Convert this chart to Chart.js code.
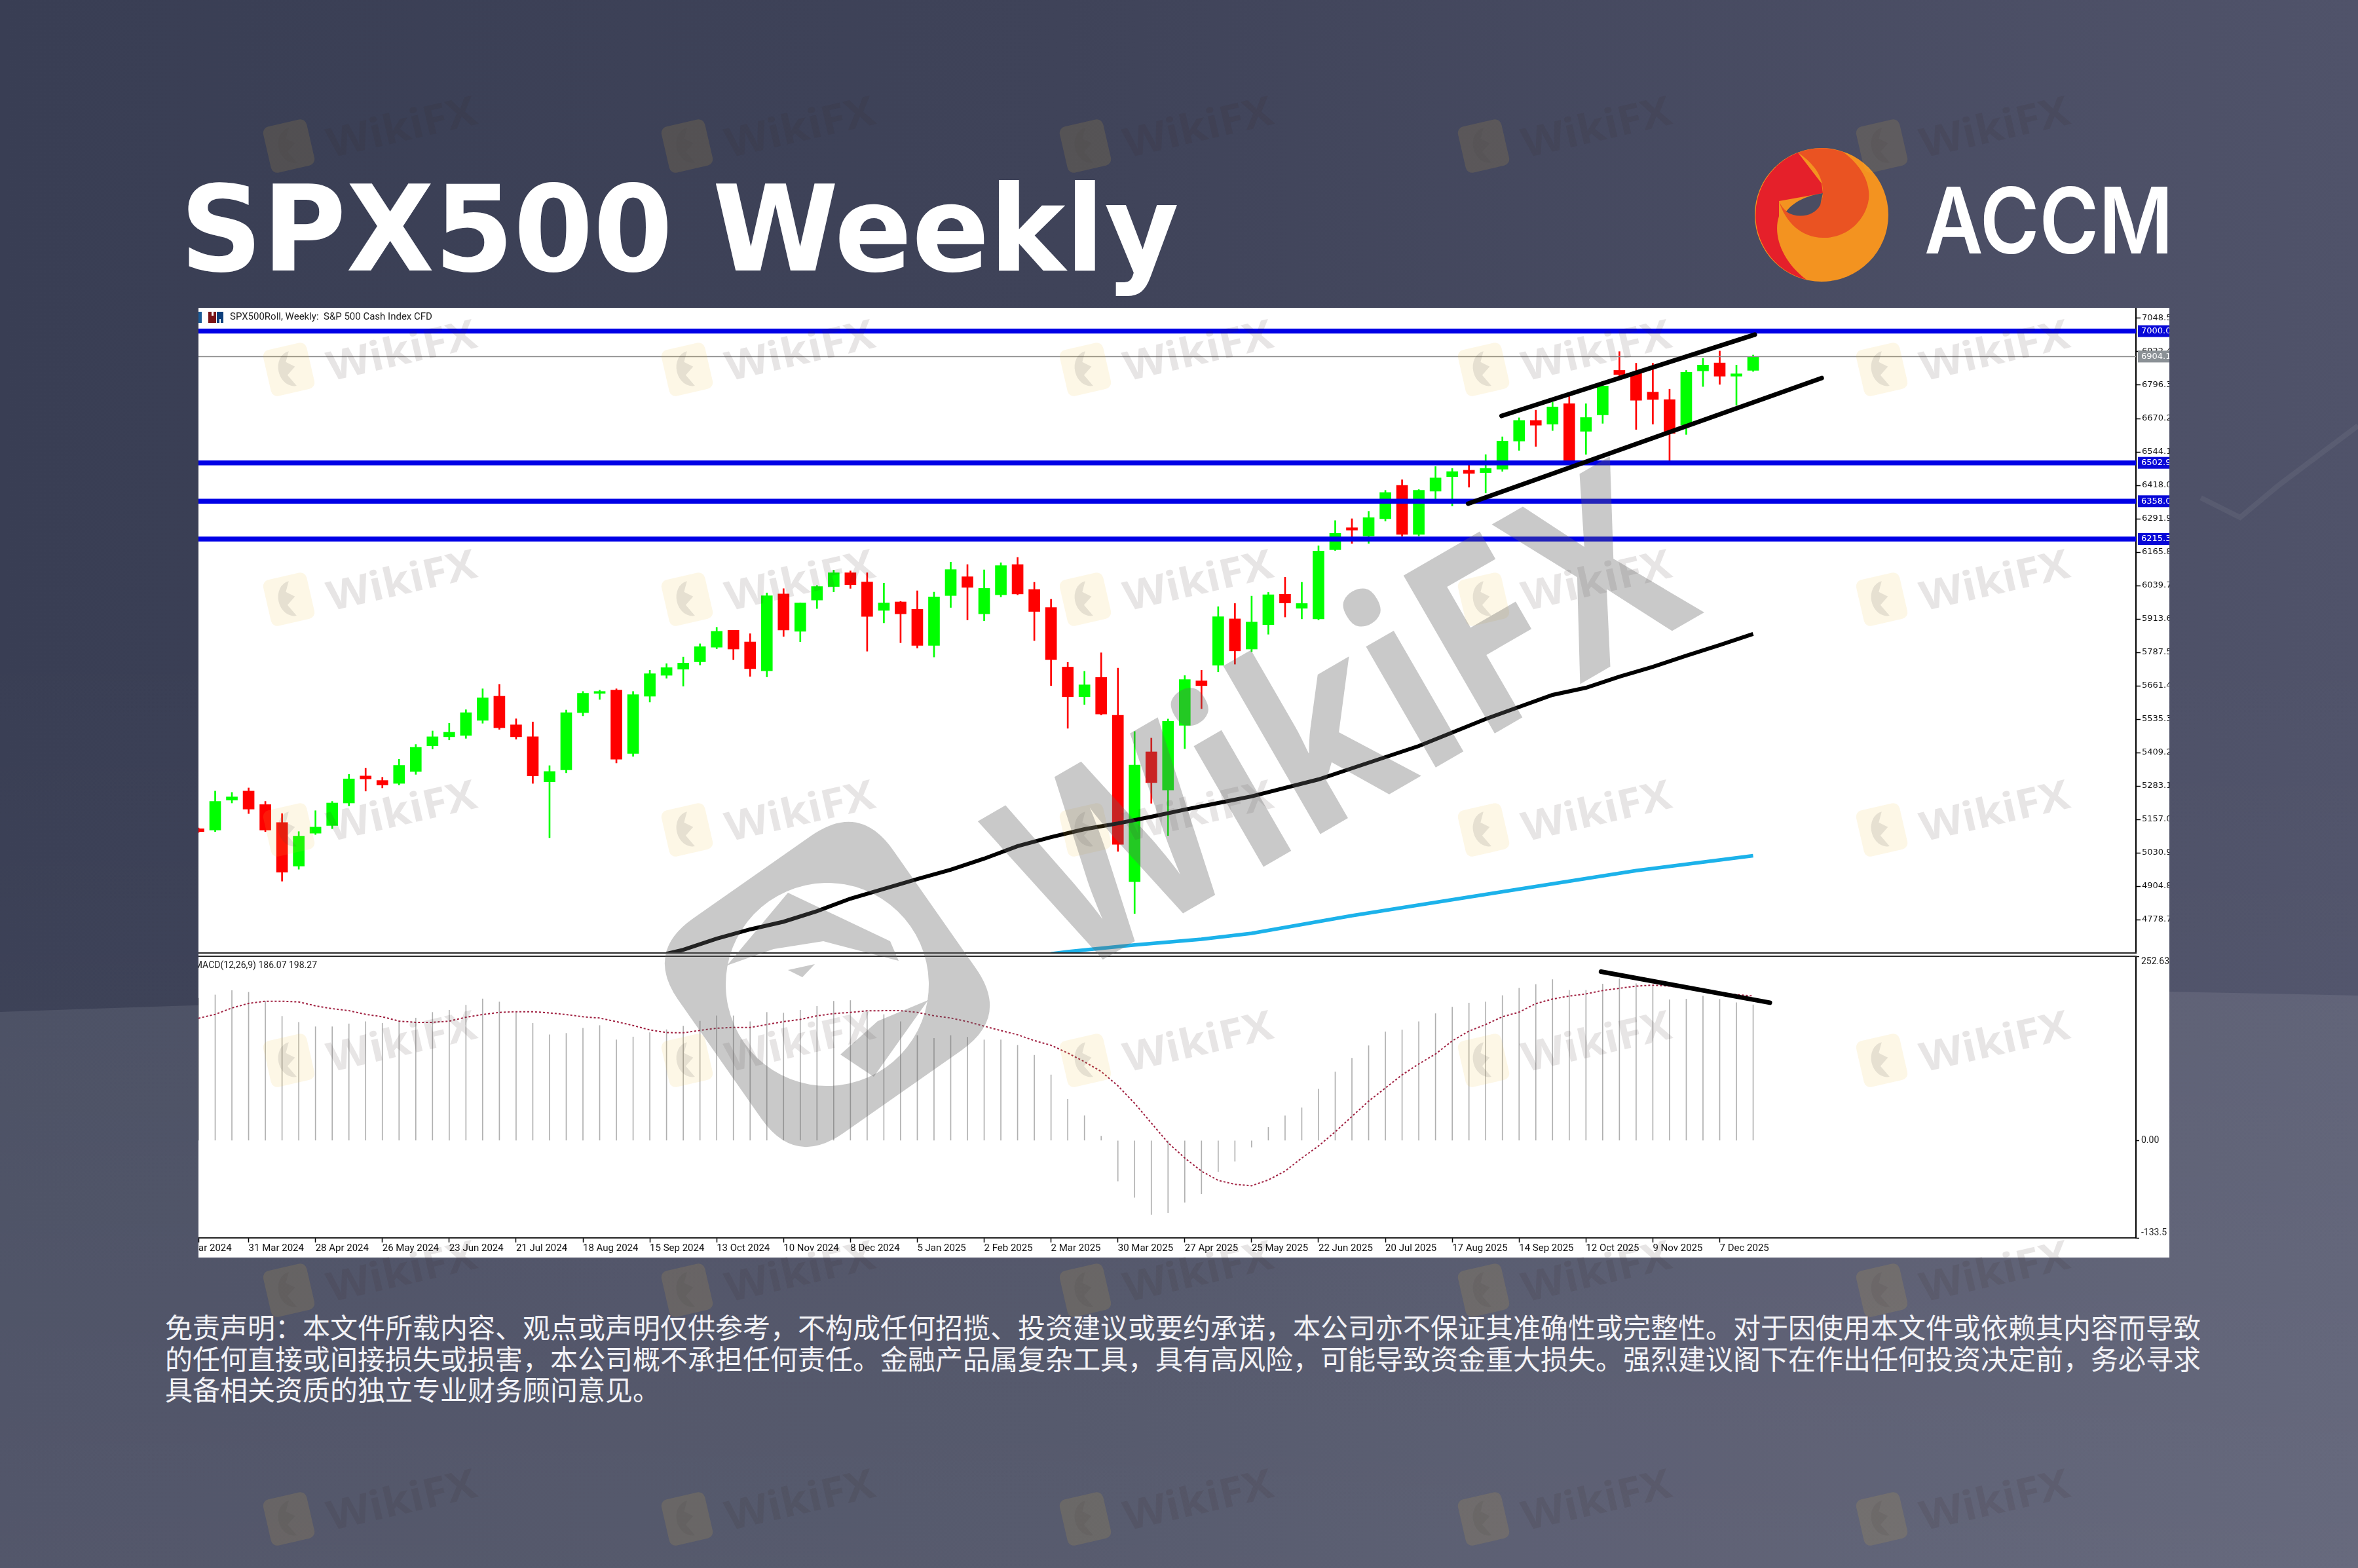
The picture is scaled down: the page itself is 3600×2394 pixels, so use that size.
<!DOCTYPE html>
<html>
<head>
<meta charset="utf-8">
<title>SPX500 Weekly</title>
<script src="https://cdn.jsdelivr.net/npm/chart.js@4"></script>
<style>
  html, body { margin: 0; padding: 0; }
  #page {
    position: relative; width: 3600px; height: 2394px; overflow: hidden;
    background:
      linear-gradient(180deg, rgba(255,255,255,0) 40%, rgba(255,255,255,0.05) 100%),
      linear-gradient(90deg, #393e54 0%, #3f4359 45%, #50536a 100%);
  }
  #page svg { position: absolute; left: 0; top: 0; }
  #sheet { position: absolute; left: 303px; top: 470px; width: 3009px; height: 1450px; background: #fff; }
  canvas { position: absolute; left: 303px; }
  #mainChart { top: 470px; }
  #macdChart { top: 1460px; }
  .divider { position: absolute; left: 303px; width: 2959px; height: 2px; background: #2a2a2a; }
</style>
</head>
<body>
<div id="page">
  <svg id="backdrop" width="3600" height="2394"></svg>
  <div id="sheet"></div>
  <canvas id="mainChart" width="3009" height="985"></canvas>
  <canvas id="macdChart" width="3009" height="460"></canvas>
  <div class="divider" style="top:1454px"></div>
  <div class="divider" style="top:1459px"></div>
  <svg id="overlay" width="3600" height="2394"></svg>
</div>

<script>
// Weekly candles, bar 0 is 10 Mar 2024, bar 93 is 21 Dec 2025
const opens = [5122,5117,5230,5264,5213,5145,4981,5105,5134,5219,5321,5304,5293,5338,5435,5469,5474,5531,5622,5514,
  5469,5299,5344,5560,5633,5645,5406,5622,5701,5724,5752,5807,5871,5827,5718,6008,5867,5985,6036,6088,
  6053,5946,5978,5950,5814,6002,6073,5933,6005,6119,6025,5957,5732,5620,5693,5550,4922,5412,5268,5512,
  5680,5739,5914,5800,5892,6007,5954,5914,6175,6258,6227,6292,6418,6233,6396,6451,6475,6466,6479,6585,
  6663,6649,6726,6622,6684,6852,6844,6770,6742,6645,6850,6880,6830,6852];
const highs = [5125,5264,5259,5276,5225,5179,5111,5190,5225,5327,5350,5316,5384,5440,5491,5520,5571,5650,5667,5537,
  5525,5360,5570,5640,5645,5650,5640,5720,5745,5770,5820,5882,5871,5858,6012,6028,5974,6040,6098,6095,
  6088,6049,5980,6020,6015,6128,6119,6099,6126,6146,6052,5988,5750,5716,5786,5728,5489,5464,5536,5700,
  5720,5960,5972,6000,6014,6071,6052,6190,6285,6292,6320,6399,6439,6402,6489,6482,6495,6534,6601,6673,
  6702,6731,6753,6726,6810,6923,6879,6879,6781,6852,6897,6925,6872,6910];
const lows = [5108,5111,5219,5179,5111,4924,4969,5100,5122,5208,5264,5276,5287,5327,5423,5457,5463,5520,5497,5460,
  5293,5088,5333,5548,5610,5370,5395,5600,5690,5660,5740,5801,5760,5697,5695,5848,5828,5953,6016,6029,
  5792,5899,5824,5804,5770,5957,5910,5907,5997,6005,5832,5662,5501,5591,5551,5036,4802,5218,5096,5424,
  5575,5714,5743,5790,5856,5921,5914,5910,6172,6199,6199,6283,6226,6227,6367,6340,6411,6389,6471,6550,
  6565,6625,6503,6535,6652,6830,6629,6649,6512,6610,6791,6799,6720,6848];
const closes = [5111,5225,5242,5196,5117,4958,5094,5128,5219,5310,5310,5287,5361,5429,5469,5486,5560,5616,5503,5469,
  5321,5338,5560,5633,5640,5384,5628,5707,5730,5747,5809,5867,5800,5726,6001,5872,5974,6036,6088,6043,
  5923,5974,5933,5814,5997,6100,6033,6029,6115,6008,5942,5760,5620,5665,5555,5063,5362,5296,5527,5685,
  5662,5922,5793,5902,6005,5974,5972,6170,6237,6249,6296,6391,6233,6399,6446,6470,6463,6482,6585,6663,
  6645,6714,6512,6674,6793,6836,6739,6742,6614,6845,6872,6830,6839,6904.1];

const slowMaBars = [28,29,31,33,35,37,39,41,43,45,47,49,51,53,55,57,59,61,63,67,69,73,77,81,83,85,87,89,91,93];
const slowMaValues = [4650,4665,4707,4742,4771,4811,4858,4895,4932,4967,5009,5056,5090,5120,5142,5167,5194,5219,5244,5308,5350,5434,5536,5627,5654,5696,5733,5775,5815,5857];
const longMaBars = [51,52,56,60,63,69,78,86,93];
const longMaValues = [4650,4658,4683,4705,4727,4794,4884,4964,5020];

// Horizontal levels and hand drawn channel
const blueLevels = [7000.0, 6502.9, 6358.0, 6215.3];
const bidLevel = 6904.1;
const channelUpperBars = [77.95, 93.1];
const channelUpperValues = [6680, 6987];
const channelLowerBars = [75.95, 97.1];
const channelLowerValues = [6349, 6823];

// MACD histogram and signal, one value per bar
const macdValues = [195,199.7,205.7,203.3,191,170.3,162,156,156,160,163,160.7,164,168,175.7,178.7,185.6,194.3,190,177,
  160.7,145,147,154,157.7,138,142,148,152,157,163.7,171,171,163,175.7,174.8,178.7,184,191,192,
  176,172.7,163,144,140,144,141.7,138,138,130.6,117,90,56.5,34,6,-55.6,-78,-101.5,-99,-84.7,
  -73,-42.6,-28.5,-9,18,34,45,70.6,94,113,130,149,151.7,163,174,183,188.6,190,198.8,209,
  214,220.7,206,206,214.7,222,215,211.7,193,194,198,193.7,189,186.07];
const signalValues = [167.6,173,181.7,188,191,191,190,184.7,180.8,178,173,169.7,163.7,162,162,163.7,169,172.7,175.7,176.6,
  176.6,175,172.7,169.7,167.9,163,157.7,151.7,148,147.7,151,154,155,155,159,163,166,171,174,175.7,
  177.8,178,178,175.7,171,168,163,156.8,150.8,145,137,130.6,120,108,94.6,75,51,24,-3,-24,
  -42,-54.7,-60,-62,-54,-42,-24,-7.5,12,33,54,72,90,105,118.6,136.6,150,159,169.7,176,
  187.7,194,198,201,205.7,208.7,211.7,213,211.7,208.7,205,202,200,198.27];
const macdLineBars = [83.9, 94.0];
const macdLineValues = [231.5, 189];

// Axis labels
const priceTicks = [7048.5,6922.4,6796.3,6670.2,6544.1,6418.0,6291.9,6165.8,6039.7,5913.6,5787.5,5661.4,5535.3,5409.2,5283.1,5157.0,5030.9,4904.8,4778.7];
const macdTicks = [252.63, 0, -133.5];
const macdTickLabels = ['252.63', '0.00', '-133.5'];
const timeTickBars = [0,3,7,11,15,19,23,27,31,35,39,43,47,51,55,59,63,67,71,75,79,83,87,91];
const timeTickLabels = ['ar 2024','31 Mar 2024','28 Apr 2024','26 May 2024','23 Jun 2024','21 Jul 2024','18 Aug 2024','15 Sep 2024','13 Oct 2024','10 Nov 2024','8 Dec 2024','5 Jan 2025','2 Feb 2025','2 Mar 2025','30 Mar 2025','27 Apr 2025','25 May 2025','22 Jun 2025','20 Jul 2025','17 Aug 2025','14 Sep 2025','12 Oct 2025','9 Nov 2025','7 Dec 2025'];

const disclaimerLines = [
  '免责声明：本文件所载内容、观点或声明仅供参考，不构成任何招揽、投资建议或要约承诺，本公司亦不保证其准确性或完整性。对于因使用本文件或依赖其内容而导致',
  '的任何直接或间接损失或损害，本公司概不承担任何责任。金融产品属复杂工具，具有高风险，可能导致资金重大损失。强烈建议阁下在作出任何投资决定前，务必寻求',
  '具备相关资质的独立专业财务顾问意见。'
];

const xMax = 115.9;
const barIndexes = closes.map((c, i) => i);
const candleColors = closes.map((c, i) => (c >= opens[i] ? '#00ff00' : '#ff0000'));
const axisFont = { family: '"DejaVu Sans"', size: 13 };
const narrowFont = '14px Roboto';

function seriesPoints(xs, ys) {
  return xs.map((x, i) => ({ x: x, y: ys[i] }));
}

function lineSet(points, color, width, order, extra) {
  return Object.assign({
    type: 'line', data: points, borderColor: color, borderWidth: width,
    pointRadius: 0, tension: 0, order: order
  }, extra || {});
}

// Keep the plot area on the exact panel edges
function rightAxisFit(scale) {
  scale.width = 51;
  scale.paddingTop = 0;
  scale.paddingBottom = 0;
}

const mainPlugin = {
  id: 'mainPanel',
  afterDraw(chart) {
    const ctx = chart.ctx;
    const area = chart.chartArea;
    const y = chart.scales.y;
    ctx.save();
    // price tags on the axis
    ctx.font = '13px "DejaVu Sans"';
    ctx.textBaseline = 'middle';
    ctx.textAlign = 'left';
    blueLevels.concat([bidLevel]).forEach(level => {
      const py = y.getPixelForValue(level);
      ctx.fillStyle = level === bidLevel ? '#8b9196' : '#0808d8';
      ctx.fillRect(area.right + 3, py - 9, 60, 18);
      ctx.fillStyle = '#fff';
      ctx.fillText(level.toFixed(1), area.right + 8, py);
    });
    // window caption and icon
    ctx.fillStyle = '#1a5a96';
    ctx.fillRect(0, 6, 5, 17);
    ctx.fillStyle = '#7a1418';
    ctx.fillRect(15, 6, 12, 17);
    ctx.fillStyle = '#0d3f7c';
    ctx.fillRect(28, 6, 10, 17);
    ctx.fillStyle = '#fff';
    ctx.fillRect(20, 6, 3, 6);
    ctx.fillRect(32, 17, 2, 6);
    ctx.fillStyle = '#222';
    ctx.font = '15px Roboto';
    ctx.fillText('SPX500Roll, Weekly:  S&P 500 Cash Index CFD', 48, 14, 321);
    ctx.restore();
  }
};

const macdPlugin = {
  id: 'macdPanel',
  afterDraw(chart) {
    const ctx = chart.ctx;
    const area = chart.chartArea;
    const y = chart.scales.y;
    ctx.save();
    ctx.font = narrowFont;
    ctx.fillStyle = '#222';
    ctx.textBaseline = 'middle';
    ctx.textAlign = 'right';
    ctx.fillText('MACD(12,26,9) 186.07 198.27', 181, 14);
    ctx.textAlign = 'left';
    macdTicks.forEach((tick, i) => {
      // the end labels stay inside the panel, as the terminal draws them
      const shift = i === 0 ? 8 : (i === macdTicks.length - 1 ? -8 : 0);
      ctx.fillText(macdTickLabels[i], area.right + 8, y.getPixelForValue(tick) + shift);
    });
    ctx.restore();
  }
};

new Chart(document.getElementById('mainChart'), {
  type: 'bar',
  data: {
    datasets: [
      { data: barIndexes.map(i => ({ x: i, y: [lows[i], highs[i]] })), backgroundColor: candleColors, barThickness: 2, grouped: false, order: 7 },
      { data: barIndexes.map(i => ({ x: i, y: [opens[i], closes[i]] })), backgroundColor: candleColors, barThickness: 17, grouped: false, order: 6 },
      lineSet(seriesPoints(longMaBars, longMaValues), '#1cb2ea', 5.5, 5),
      lineSet(seriesPoints(slowMaBars, slowMaValues), '#000', 6, 4),
      lineSet(seriesPoints([0, xMax], [bidLevel, bidLevel]), '#8a8a8a', 1.5, 3)
    ].concat(blueLevels.map(level =>
      lineSet(seriesPoints([0, xMax], [level, level]), '#0000e6', 7.5, 2)
    )).concat([
      lineSet(seriesPoints(channelUpperBars, channelUpperValues), '#000', 7, 1, { borderCapStyle: 'round' }),
      lineSet(seriesPoints(channelLowerBars, channelLowerValues), '#000', 7, 1, { borderCapStyle: 'round' })
    ])
  },
  options: {
    responsive: false,
    animation: false,
    devicePixelRatio: 1,
    layout: { padding: 0 },
    plugins: { legend: { display: false }, tooltip: { enabled: false } },
    scales: {
      x: { type: 'linear', display: false, min: 0, max: xMax, offset: false },
      y: {
        type: 'linear', position: 'right', min: 4652.9, max: 7088, bounds: 'data',
        afterFit: rightAxisFit,
        afterBuildTicks(axis) { axis.ticks = priceTicks.map(v => ({ value: v })); },
        grid: { drawOnChartArea: false, tickLength: 7, tickColor: '#000', tickWidth: 1.5 },
        border: { color: '#000', width: 2 },
        ticks: { color: '#111', font: axisFont, padding: 2, autoSkip: false, callback: v => v.toFixed(1) }
      }
    }
  },
  plugins: [mainPlugin]
});

new Chart(document.getElementById('macdChart'), {
  type: 'bar',
  data: {
    datasets: [
      { data: barIndexes.map(i => ({ x: i, y: macdValues[i] })), backgroundColor: '#b0b0b0', barThickness: 1, grouped: false, order: 3 },
      lineSet(seriesPoints(barIndexes, signalValues), '#a02040', 2, 2, { borderDash: [3, 3] }),
      lineSet(seriesPoints(macdLineBars, macdLineValues), '#000', 7, 1, { borderCapStyle: 'round' })
    ]
  },
  options: {
    responsive: false,
    animation: false,
    devicePixelRatio: 1,
    layout: { padding: 0 },
    plugins: { legend: { display: false }, tooltip: { enabled: false } },
    scales: {
      x: {
        type: 'linear', min: 0, max: xMax, offset: false, bounds: 'data',
        afterBuildTicks(axis) { axis.ticks = timeTickBars.map(v => ({ value: v })); },
        afterFit(scale) { scale.height = 30; scale.paddingLeft = 0; scale.paddingRight = 0; },
        grid: { drawOnChartArea: false, tickLength: 7, tickColor: '#000', tickWidth: 1.5, offset: false },
        border: { color: '#222', width: 2 },
        ticks: {
          color: '#111', font: { family: 'Roboto', size: 15 }, padding: 0, autoSkip: false,
          maxRotation: 0, minRotation: 0, align: 'start',
          callback: (v, i) => timeTickLabels[i]
        }
      },
      y: {
        type: 'linear', position: 'right', min: -133.5, max: 252.63, bounds: 'data',
        afterFit: rightAxisFit,
        afterBuildTicks(axis) { axis.ticks = macdTicks.map(v => ({ value: v })); },
        grid: { drawOnChartArea: false, tickLength: 5, tickColor: '#000', tickWidth: 1.5 },
        border: { color: '#000', width: 2 },
        ticks: { display: false }
      }
    }
  },
  plugins: [macdPlugin]
});

// Page furniture behind the charts
const NS = 'http://www.w3.org/2000/svg';
function svgNode(parent, tag, attrs, text) {
  const node = document.createElementNS(NS, tag);
  Object.keys(attrs).forEach(k => node.setAttribute(k, attrs[k]));
  if (text) node.textContent = text;
  parent.appendChild(node);
  return node;
}

const backdrop = document.getElementById('backdrop');
svgNode(backdrop, 'path', { d: 'M0 1545 Q1800 1480 3600 1520 L3600 2394 L0 2394 Z', fill: 'rgba(255,255,255,0.085)' });
svgNode(backdrop, 'path', { d: 'M3360 760 L3420 790 L3480 740 L3600 650', fill: 'none', stroke: 'rgba(255,255,255,0.06)', 'stroke-width': 8 });
svgNode(backdrop, 'text', { x: 275, y: 413, fill: '#fff', 'font-family': '"DejaVu Sans"', 'font-weight': 700, 'font-size': 181, textLength: 1525, lengthAdjust: 'spacingAndGlyphs' }, 'SPX500 Weekly');

// ACCM logo
svgNode(backdrop, 'circle', { cx: 2781, cy: 328, r: 102, fill: '#f39320' });
svgNode(backdrop, 'path', { d: 'M2745 233 A102 102 0 0 0 2758 427 C2722 400 2706 360 2716 330 L2716 307 L2783 295 L2781 280 Z', fill: '#e5202a' });
svgNode(backdrop, 'path', { d: 'M2745 233 A102 102 0 0 1 2814 232 C2845 255 2858 285 2852 310 C2843 345 2812 364 2783 363 C2750 363 2725 338 2716 307 C2722 322 2735 330 2752 328 C2770 325 2783 312 2783 295 C2784 270 2770 250 2745 233 Z', fill: '#ea5322' });
svgNode(backdrop, 'path', { d: 'M2783 295 C2760 298 2738 308 2727 323 C2745 335 2770 330 2779 313 Z', fill: '#4a4d62' });
svgNode(backdrop, 'text', { x: 2938, y: 387, fill: '#fff', 'font-family': 'Inter', 'font-weight': 600, 'font-size': 140, textLength: 380, lengthAdjust: 'spacingAndGlyphs' }, 'ACCM');

disclaimerLines.forEach((line, i) => {
  svgNode(backdrop, 'text', { x: 252, y: 2043 + i * 47.5, fill: '#f2f2f6', 'font-family': '"Noto Sans CJK SC"', 'font-size': 42 }, line);
});

// WikiFX watermark over everything
const overlay = document.getElementById('overlay');
const markRows = [223, 564, 915, 1267, 1619, 1970, 2319];
const markCols = [441, 1049, 1657, 2265, 2873];
markRows.forEach(cy => markCols.forEach(cx => {
  const tile = svgNode(overlay, 'g', { transform: `translate(${cx} ${cy}) rotate(-13)` });
  svgNode(tile, 'rect', { x: -34, y: -36, width: 68, height: 72, rx: 10, fill: 'rgba(240,190,60,0.13)' });
  svgNode(tile, 'path', { d: 'M6 -27 A22 27 0 1 0 6 27 L-4 8 L10 -2 L-2 -12 Z', fill: 'rgba(70,70,70,0.13)' });
  svgNode(overlay, 'text', {
    transform: `translate(${cx + 64} ${cy + 18}) rotate(-13)`, fill: 'rgba(60,40,40,0.12)',
    'font-family': '"Open Sans"', 'font-weight': 700, 'font-size': 62, textLength: 232, lengthAdjust: 'spacingAndGlyphs'
  }, 'WikiFX');
}));

const bigGrey = 'rgba(100,100,100,0.35)';
const bigMark = svgNode(overlay, 'g', { transform: 'translate(1263 1503) rotate(-35)' });
svgNode(bigMark, 'path', {
  d: 'M-110 -200 H110 Q200 -200 200 -110 V110 Q200 200 110 200 H-110 Q-200 200 -200 110 V-110 Q-200 -200 -110 -200 Z M0 -155 A155 155 0 1 0 0 155 A155 155 0 1 0 0 -155 Z',
  fill: bigGrey, 'fill-rule': 'evenodd'
});
svgNode(overlay, 'path', { d: 'M1110 1474 L1203 1363 L1359 1437 L1372 1467 L1257 1437 L1181 1449 Z', fill: bigGrey });
svgNode(overlay, 'path', { d: 'M1417 1527 L1334 1644 L1283 1610 L1340 1559 Z', fill: bigGrey });
svgNode(overlay, 'path', { d: 'M1203 1481 L1244 1472 L1225 1492 Z', fill: bigGrey });
svgNode(overlay, 'text', {
  transform: 'translate(1632 1495) rotate(-30)', fill: bigGrey,
  'font-family': '"Open Sans"', 'font-weight': 700, 'font-size': 390, textLength: 1120, lengthAdjust: 'spacingAndGlyphs'
}, 'WikiFX');
</script>
</body>
</html>
